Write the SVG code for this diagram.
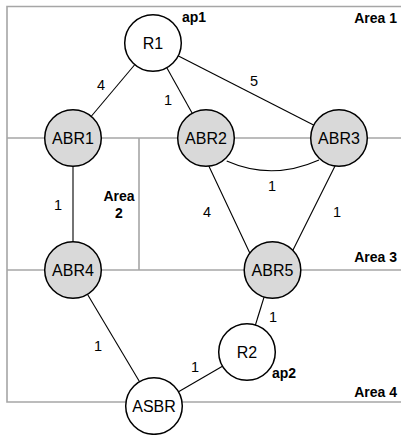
<svg xmlns="http://www.w3.org/2000/svg" width="401" height="435" viewBox="0 0 401 435">
<style>
.area{stroke:#a6a6a6;stroke-width:1.6;fill:none}
.edge{stroke:#000;stroke-width:1.1;fill:none}
.rt{fill:#fff;stroke:#000;stroke-width:1.5}
.abr{fill:#d9d9d9;stroke:#000;stroke-width:1.5}
.nl{font-family:"Liberation Sans",Arial,sans-serif;font-size:16px;text-anchor:middle;fill:#000}
.el{font-family:"Liberation Sans",Arial,sans-serif;font-size:14.5px;text-anchor:middle;fill:#000}
.al{font-family:"Liberation Sans",Arial,sans-serif;font-size:14px;font-weight:bold;fill:#000}
</style>
<rect width="401" height="435" fill="#fff"/>
<g id="areas">
<path class="area" d="M401,6.5H7V402H401"/>
<path class="area" d="M7,138H401M7,270H401M139,138V270"/>
<text class="al" x="397" y="23" text-anchor="end">Area 1</text>
<text class="al" x="119" y="201" text-anchor="middle">Area</text>
<text class="al" x="119" y="218" text-anchor="middle">2</text>
<text class="al" x="397" y="262" text-anchor="end">Area 3</text>
<text class="al" x="397" y="397" text-anchor="end">Area 4</text>
</g>
<g id="connectors">
<line class="edge" x1="153" y1="43" x2="73" y2="138"/>
<line class="edge" x1="153" y1="43" x2="206" y2="138"/>
<line class="edge" x1="153" y1="43" x2="339" y2="138"/>
<path class="edge" d="M226.7,161 Q272,181 319,160"/>
<line class="edge" x1="73" y1="138" x2="73" y2="270"/>
<line class="edge" x1="206" y1="160" x2="254" y2="262"/>
<line class="edge" x1="338" y1="160" x2="289" y2="258"/>
<line class="edge" x1="73" y1="270" x2="154" y2="406"/>
<line class="edge" x1="272.5" y1="270" x2="247" y2="352"/>
<line class="edge" x1="247" y1="352" x2="154" y2="406"/>
<text class="el" x="101" y="90">4</text>
<text class="el" x="168" y="105">1</text>
<text class="el" x="254" y="86">5</text>
<text class="el" x="58" y="210">1</text>
<text class="el" x="272" y="191">1</text>
<text class="el" x="207" y="217">4</text>
<text class="el" x="337" y="217">1</text>
<text class="el" x="98" y="351">1</text>
<text class="el" x="195" y="372">1</text>
<text class="el" x="273" y="322">1</text>
</g>
<g id="R1"><circle class="rt" cx="153" cy="43" r="28.3"/><text class="nl" x="153" y="49">R1</text><text class="al" x="182" y="22">ap1</text></g>
<g id="ABR1"><circle class="abr" cx="73" cy="138" r="28.3"/><text class="nl" x="73" y="144">ABR1</text></g>
<g id="ABR2"><circle class="abr" cx="206" cy="138" r="28.3"/><text class="nl" x="206" y="144">ABR2</text></g>
<g id="ABR3"><circle class="abr" cx="339" cy="138" r="28.3"/><text class="nl" x="339" y="144">ABR3</text></g>
<g id="ABR4"><circle class="abr" cx="73" cy="270" r="28.3"/><text class="nl" x="73" y="276">ABR4</text></g>
<g id="ABR5"><circle class="abr" cx="272.5" cy="270" r="28.3"/><text class="nl" x="272.5" y="276">ABR5</text></g>
<g id="R2"><circle class="rt" cx="247" cy="352" r="28.3"/><text class="nl" x="247" y="358">R2</text><text class="al" x="272" y="378">ap2</text></g>
<g id="ASBR"><circle class="rt" cx="154" cy="406" r="28.3"/><text class="nl" x="154" y="412">ASBR</text></g>
</svg>
